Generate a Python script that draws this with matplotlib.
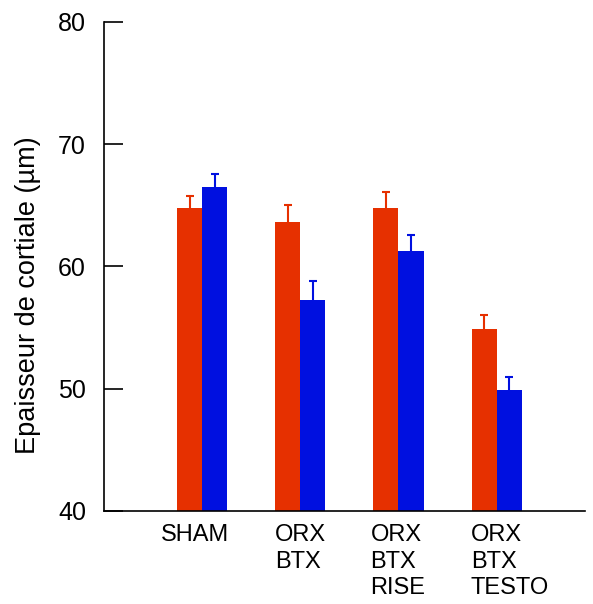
import matplotlib.pyplot as plt
import numpy as np

plt.rcParams['font.family'] = ['Liberation Sans', 'DejaVu Sans']

groups = ['SHAM', 'ORX\nBTX', 'ORX\nBTX\nRISE', 'ORX\nBTX\nTESTO']
red_vals = [64.8, 63.6, 64.8, 54.9]
red_err = [1.0, 1.4, 1.3, 1.1]
blue_vals = [66.5, 57.3, 61.3, 49.9]
blue_err = [1.1, 1.5, 1.3, 1.1]

red = '#E63000'
blue = '#0010E0'

fig = plt.figure(figsize=(5.93, 6.04), dpi=100)
ax = fig.add_axes([104/593, 93/604, 481/593, 489/604])

x = np.arange(len(groups))
w = 0.255
b1 = ax.bar(x - w/2, red_vals, w, color=red, yerr=[[0]*4, red_err],
            error_kw=dict(ecolor=red, elinewidth=1.5, capsize=3, capthick=1.5))
b2 = ax.bar(x + w/2, blue_vals, w, color=blue, yerr=[[0]*4, blue_err],
            error_kw=dict(ecolor=blue, elinewidth=1.5, capsize=3, capthick=1.5))
# only the upper cap is wanted
for b in (b1, b2):
    caps = b.errorbar.lines[1]
    caps[0].set_visible(False)

ax.set_ylim(40, 80)
ax.set_yticks([40, 50, 60, 70, 80])
ax.set_xlim(-1.0, 3.9)
ax.set_xticks([])
# labels are left-aligned blocks, slightly left of each group centre
label_shift = [-0.42, -0.255, -0.285, -0.265]
for i, g in enumerate(groups):
    ax.text(x[i] + label_shift[i], 38.9, g, ha='left', va='top',
            fontsize=17, linespacing=1.25)

ax.spines['top'].set_visible(False)
ax.spines['right'].set_visible(False)
ax.spines['left'].set_linewidth(1.2)
ax.spines['bottom'].set_linewidth(1.2)
ax.tick_params(axis='y', direction='in', length=14, width=1.2, labelsize=18, pad=13)
fig.text(28/593, 1 - 295/604, 'Epaisseur de cortiale (µm)', rotation=90,
         ha='center', va='center', fontsize=19.5)

fig.savefig('out.png', dpi=100)
